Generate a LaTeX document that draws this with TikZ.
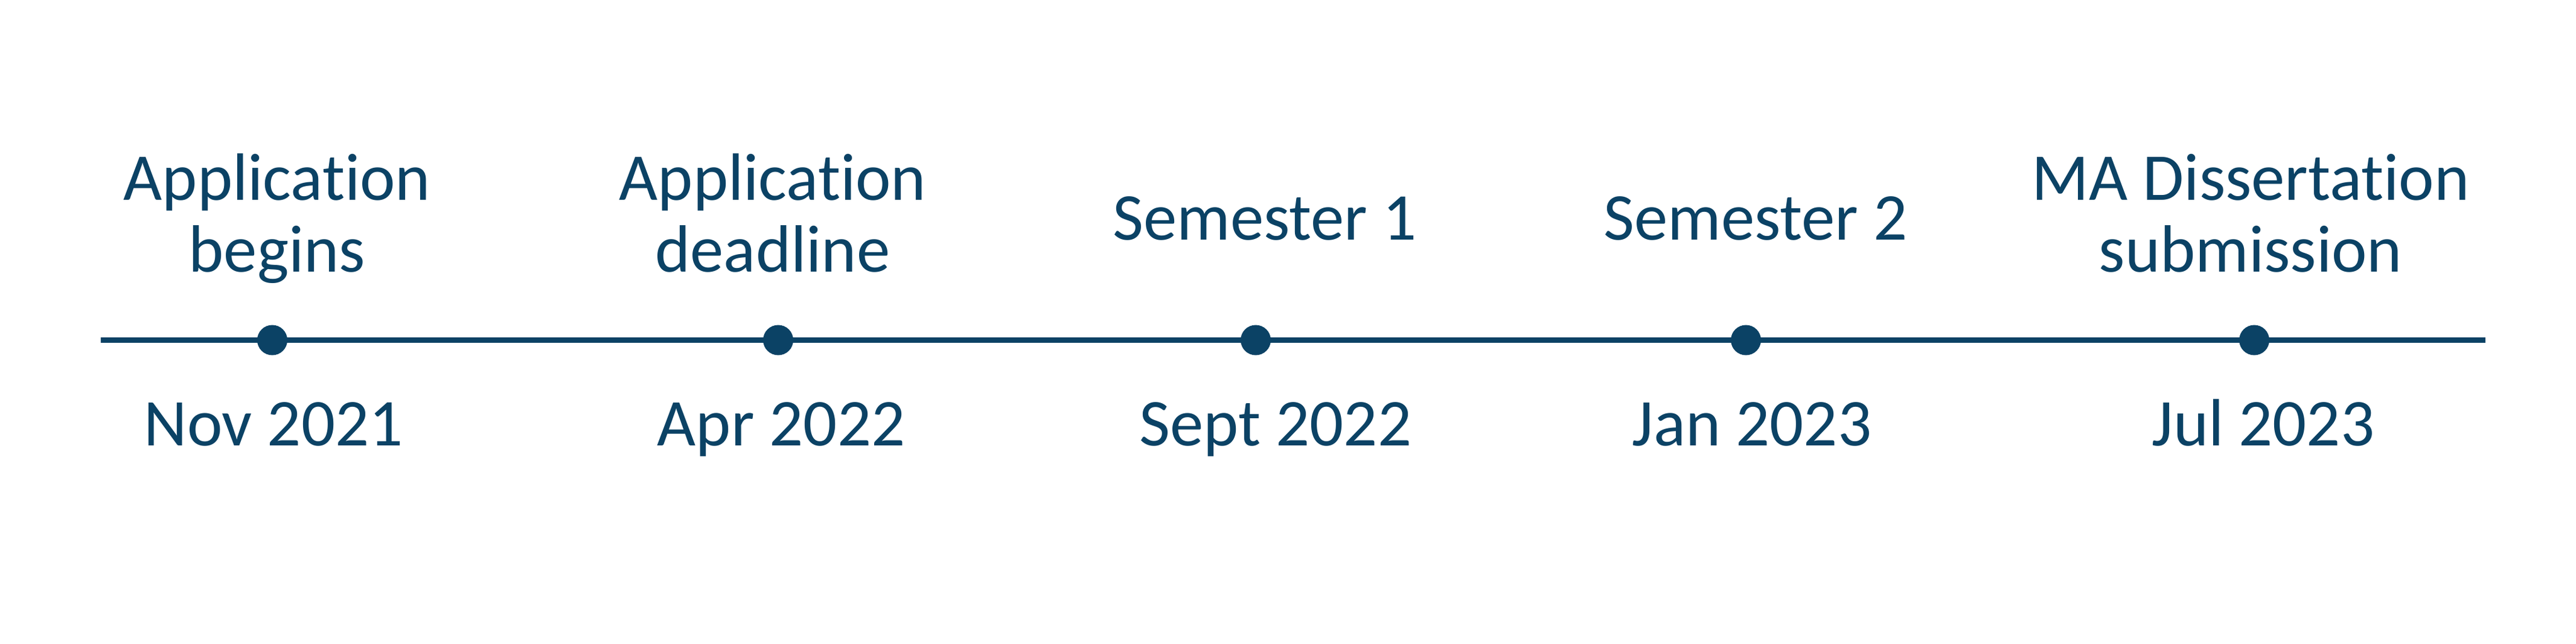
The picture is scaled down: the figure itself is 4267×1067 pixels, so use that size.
\documentclass[tikz,border=0pt]{standalone}
\usepackage{fontspec}
\setmainfont{Carlito}[Ligatures=NoCommon]
\definecolor{tlblue}{RGB}{11,66,101}
\begin{document}
\begin{tikzpicture}[x=0.01cm,y=-0.01cm,
  lbl/.style={text=tlblue,font=\fontsize{31.5}{34.1}\selectfont,inner sep=0pt,align=center,anchor=base},
  dot/.style={circle,fill=tlblue,inner sep=0pt,minimum size=0.5cm},
  axis/.style={draw=tlblue,line width=2.36pt}]
\useasboundingbox[fill=white] (0,0) rectangle (4267,1067);
\coordinate (L) at (167,563.5);
\coordinate (R) at (4117,563.5);
\draw[axis] (L) -- (R);
\node[dot] (d1) at (451,563.5) {};
\node[dot] (d2) at (1289,563.5) {};
\node[dot] (d3) at (2080,563.5) {};
\node[dot] (d4) at (2892,563.5) {};
\node[dot] (d5) at (3734,563.5) {};
\node[lbl] (t1) at (459,451) {Application\\begins};
\node[lbl] (t2) at (1280,451) {Application\\deadline};
\node[lbl] (t3) at (2095,398) {Semester 1};
\node[lbl] (t4) at (2908,398) {Semester 2};
\node[lbl] (t5) at (3728,451) {MA Dissertation\\submission};
\node[lbl] (b1) at (453,738) {Nov 2021};
\node[lbl] (b2) at (1294,738) {Apr 2022};
\node[lbl] (b3) at (2113,738) {Sept 2022};
\node[lbl] (b4) at (2902,738) {Jan 2023};
\node[lbl] (b5) at (3749,738) {Jul 2023};
\end{tikzpicture}
\end{document}
